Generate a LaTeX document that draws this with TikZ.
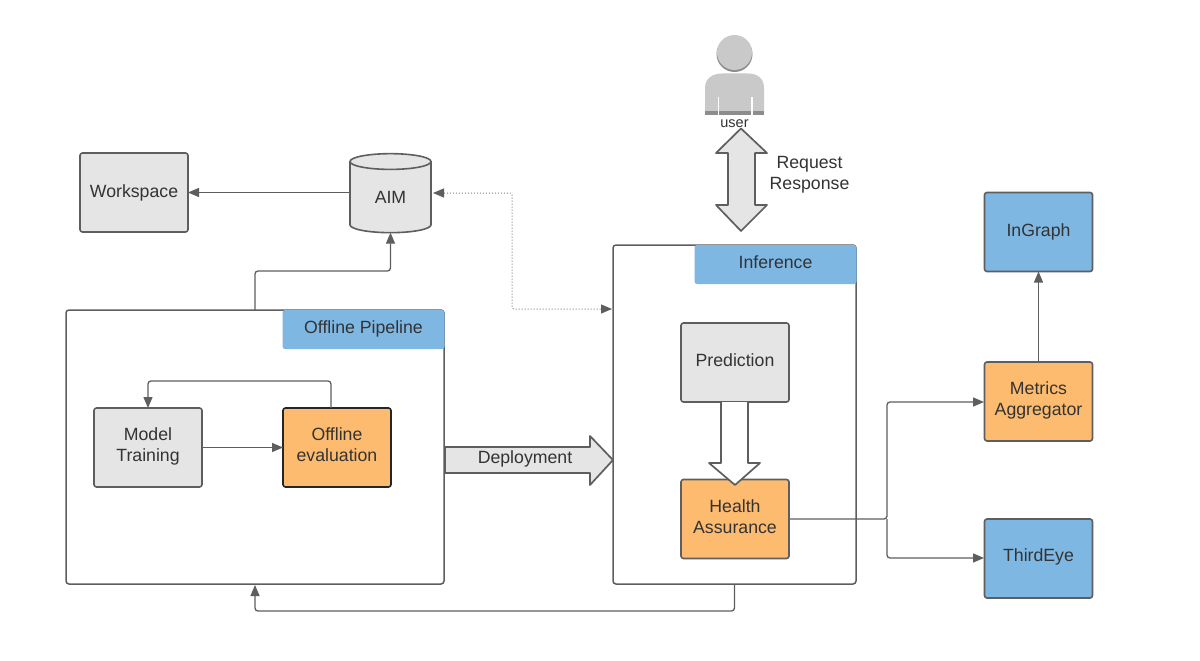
\documentclass[tikz,border=0pt]{standalone}
\usepackage{fontspec}
\setmainfont{Liberation Sans}
\usetikzlibrary{shapes.geometric,arrows.meta,calc}
\definecolor{ln}{HTML}{5E5E5E}
\definecolor{txt}{HTML}{333333}
\definecolor{gfill}{HTML}{E5E5E5}
\definecolor{bfill}{HTML}{7FB7E3}
\definecolor{ofill}{HTML}{FDBB70}
\definecolor{pfill}{HTML}{C9C9C9}
\definecolor{pdark}{HTML}{8C8C8C}
\newcommand\lifted[2]{\raisebox{#1}[\height][\depth]{\begin{tabular}{@{}c@{}}#2\end{tabular}}}
\tikzset{
 boxn/.style={draw=ln,line width=1.6pt,rounded corners=2.5pt,align=center,text=txt,
   font=\fontsize{17.7}{21}\selectfont,minimum width=108pt,minimum height=79pt,inner sep=0pt,outer sep=0pt},
 graybox/.style={boxn,fill=gfill},
 bluebox/.style={boxn,fill=bfill},
 orangebox/.style={boxn,fill=ofill},
 framebox/.style={draw=ln,line width=1.5pt,rounded corners=3pt,fill=white,inner sep=0pt,outer sep=0pt},
 tagbox/.style={fill=bfill,rounded corners=2.5pt,text=txt,font=\fontsize{17.7}{21}\selectfont,inner sep=0pt,outer sep=0pt},
 conn/.style={draw=ln,line width=1.3pt,rounded corners=3pt,-{Triangle[length=11pt,width=9pt]}},
 dotconn/.style={draw=gray,line width=1pt,dotted,rounded corners=2pt,{Triangle[length=11pt,width=9pt,color=ln]}-{Triangle[length=11pt,width=9pt,color=ln]}},
 blockarrow/.style={draw=ln,line width=1.7pt,line join=round},
 plainlabel/.style={text=txt,align=center,font=\fontsize{17.7}{21}\selectfont,inner sep=0pt},
}
\begin{document}
\begin{tikzpicture}[x=1pt,y=-1pt]
\useasboundingbox[fill=white] (0,0) rectangle (1200,661);
% frames
\node[framebox,minimum width=378pt,minimum height=274pt] (offline) at (255,447) {};
\node[framebox,minimum width=243pt,minimum height=339pt] (inference) at (734.5,414.5) {};
\node[tagbox,minimum width=162pt,minimum height=39pt] (offtag) at (363.5,329.5) {\lifted{0pt}{Offline Pipeline}};
\node[tagbox,minimum width=162pt,minimum height=39pt] (inftag) at (775.5,264.5) {\lifted{0pt}{Inference}};
% boxes
\node[graybox] (workspace) at (134,192.5) {\lifted{-1pt}{Workspace}};
\node[cylinder,shape border rotate=90,aspect=0.5,draw=ln,line width=1.6pt,cylinder uses custom fill,
  cylinder body fill=gfill,cylinder end fill=gfill,minimum width=81pt,minimum height=79pt,
  inner sep=0pt,outer sep=0pt,text=txt,font=\fontsize{17.7}{21}\selectfont] (aim) at (390.5,197.5) {AIM};
\node[graybox] (training) at (148,447.5) {\lifted{1pt}{Model\\Training}};
\node[orangebox,draw=black!85] (evaluation) at (337,447.5) {\lifted{0.5pt}{Offline\\evaluation}};
\node[graybox] (prediction) at (735,362.5) {\lifted{0pt}{Prediction}};
\node[orangebox] (health) at (735,519) {\lifted{0pt}{Health\\Assurance}};
\node[orangebox] (metrics) at (1038.5,401.5) {\lifted{1pt}{Metrics\\Aggregator}};
\node[bluebox] (ingraph) at (1038.5,232) {\lifted{0pt}{InGraph}};
\node[bluebox] (thirdeye) at (1038.5,558.5) {\lifted{1pt}{ThirdEye}};
% labels
\node[plainlabel] (reqresp) at (809.5,174.5) {Request\\Response};
\node[plainlabel,font=\fontsize{14.5}{16}\selectfont] (userlabel) at (734.5,124) {user};
% person
\begin{scope}
 \fill[pfill] (705,111) -- (705,88) .. controls (705,78) and (713,73.5) .. (722,73.5) -- (748,73.5) .. controls (757,73.5) and (764,78) .. (764,88) -- (764,111) -- cycle;
 \fill[pdark] (705,111) rectangle (764,115);
 \fill[white] (717.5,97) rectangle (719,115);
 \fill[white] (751,97) rectangle (752.5,115);
 \fill[pdark] (734.5,54) circle (18);
 \fill[pfill] (734.5,52.5) circle (17.5);
\end{scope}
% connectors
\coordinate (dotA) at (433,193);
\coordinate (dotB) at (512,193);
\coordinate (dotC) at (512,309);
\coordinate (dotD) at (612,309);
\draw[dotconn] (dotA) -- (dotB) -- (dotC) -- (dotD);
\coordinate (aimOut) at (350,192.5);
\draw[conn] (aimOut) -- (workspace.east);
\coordinate (offUp) at (255,271);
\draw[conn] (offline.north) -- (offUp) -| (aim.south);
\draw[conn] (training.east) -- (evaluation.west);
\coordinate (loopUp) at (331,381);
\coordinate (evalTop) at (331,408);
\draw[conn] (evalTop) -- (loopUp) -| (training.north);
\coordinate (junction) at (887,519);
\coordinate (metIn) at (984,402);
\coordinate (thirdIn) at (984,558);
\draw[conn] (health.east) -- (junction) |- (metIn);
\draw[conn] (junction) |- (thirdIn);
\draw[conn] (metrics.north) -- (ingraph.south);
\coordinate (bottomRun) at (734.5,611);
\coordinate (offBottom) at (255,585);
\draw[conn] (inference.south) -- (bottomRun) -| (offBottom);
% block arrows
\path (445,447) coordinate (depA) (590,447) coordinate (depB) (590,436) coordinate (depC)
      (613,460) coordinate (depTip) (590,485) coordinate (depD) (590,473) coordinate (depE) (445,473) coordinate (depF);
\draw[blockarrow,fill=gfill] (depA) -- (depB) -- (depC) -- (depTip) -- (depD) -- (depE) -- (depF) -- cycle;
\node[plainlabel] (deplabel) at (525,459) {Deployment};
\draw[blockarrow,fill=white] (721,402) -- (721,463) -- (709,463) -- (735,485) -- (760,463) -- (748,463) -- (748,402);
\draw[blockarrow,fill=gfill] (741,128.5) -- (767,153) -- (755,153) -- (755,205) -- (767,205) -- (741,231) -- (716,205) -- (728,205) -- (728,153) -- (716,153) -- cycle;
\end{tikzpicture}
\end{document}
